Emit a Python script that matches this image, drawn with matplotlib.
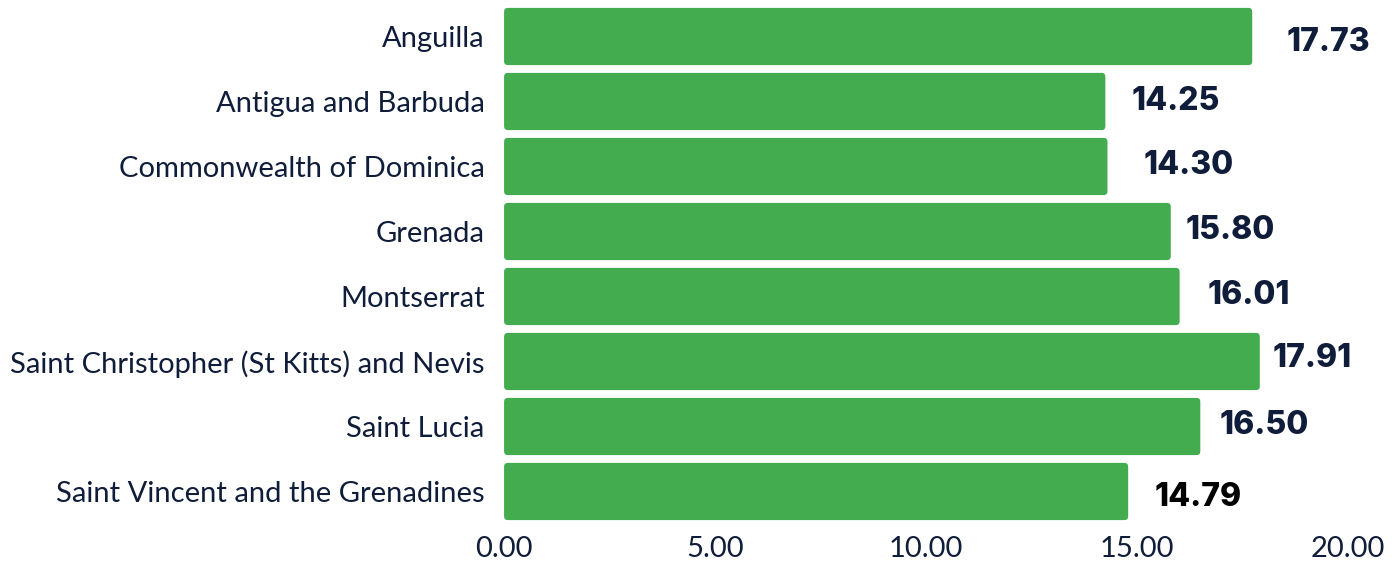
import numpy as np
import matplotlib
matplotlib.use("Agg")
import matplotlib.pyplot as plt
from matplotlib.patches import FancyBboxPatch
from matplotlib.transforms import offset_copy

# ── Data ──────────────────────────────────────────────────────────────────────
countries = [
    "Anguilla",
    "Antigua and Barbuda",
    "Commonwealth of Dominica",
    "Grenada",
    "Montserrat",
    "Saint Christopher (St Kitts) and Nevis",
    "Saint Lucia",
    "Saint Vincent and the Grenadines",
]
values = [17.73, 14.25, 14.30, 15.80, 16.01, 17.91, 16.50, 14.79]
x_ticks = [0, 5, 10, 15, 20]

# label nudges in points (the original labels are placed by hand)
label_dx = [25, 19, 26, 11, 20, 9, 14, 19]
label_dy = [-4, 0, 1, 1, 1, 2, 1, -4]

# ── Style ─────────────────────────────────────────────────────────────────────
BAR_COLOR = "#43AC4F"
NAVY = "#0F1D3A"
LABEL_FONT = "Lato"
VALUE_FONT = "Inter"

fig = plt.figure(figsize=(13.94, 5.63), dpi=100)
ax = fig.add_axes([0.3616, 0.0693, 0.9670 - 0.3616, 0.9929 - 0.0693])

bar_h = 0.88
y = np.arange(len(countries))
for yi, v in zip(y, values):
    ax.add_patch(FancyBboxPatch(
        (0, yi - bar_h / 2), v, bar_h,
        boxstyle="round,pad=0,rounding_size=0.09",
        mutation_aspect=0.65,
        facecolor=BAR_COLOR, edgecolor="none"))

ax.set_xlim(0, 20)
ax.set_ylim(len(countries) - 0.5, -0.5)

ax.set_yticks(y)
ax.set_yticklabels(countries, fontsize=21, family=LABEL_FONT, color=NAVY)
for lbl in ax.get_yticklabels():
    lbl.set_verticalalignment("center_baseline")
ax.set_xticks(x_ticks)
ax.set_xticklabels([f"{t:.2f}" for t in x_ticks], fontsize=21,
                   family=LABEL_FONT, color=NAVY)
ax.tick_params(axis="y", length=0, pad=14)
ax.tick_params(axis="x", length=0, pad=9)
for s in ax.spines.values():
    s.set_visible(False)

for i, (yi, v) in enumerate(zip(y, values)):
    tr = offset_copy(ax.transData, fig=fig, x=label_dx[i], y=label_dy[i], units="points")
    ax.text(v, yi, f"{v:.2f}", transform=tr, ha="left", va="center",
            fontsize=23, fontweight="heavy", family=VALUE_FONT,
            color="black" if i == len(values) - 1 else NAVY)

fig.savefig("out.png", dpi=100, facecolor="white")
